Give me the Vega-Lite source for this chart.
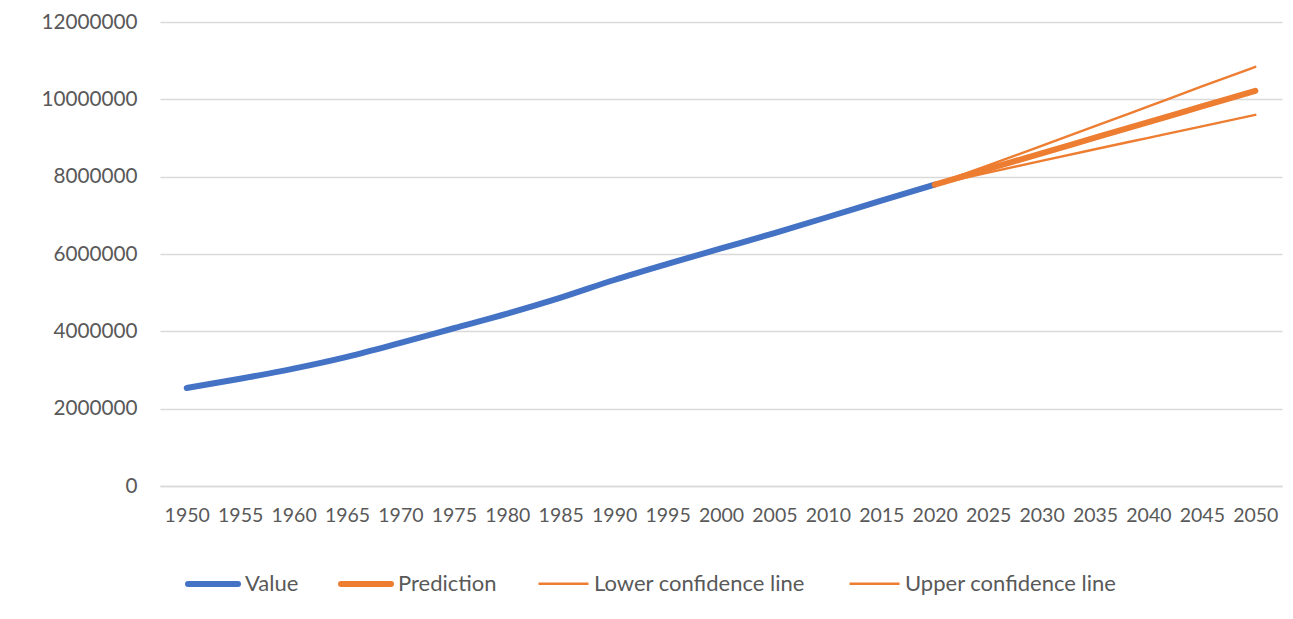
{
  "$schema": "https://vega.github.io/schema/vega-lite/v6.json",
  "width": 1122,
  "height": 464,
  "autosize": "none",
  "padding": {"left": 160, "top": 22, "right": 11, "bottom": 133},
  "background": "white",
  "config": {
    "font": "Lato",
    "view": {"stroke": null},
    "axis": {"labelColor": "#595959", "labelFont": "Lato"},
    "legend": {"labelColor": "#595959", "labelFont": "Lato"}
  },
  "data": {
    "values": [
      {"year": 1950, "series": "Value", "pop": 2536431},
      {"year": 1955, "series": "Value", "pop": 2773020},
      {"year": 1960, "series": "Value", "pop": 3034950},
      {"year": 1965, "series": "Value", "pop": 3339584},
      {"year": 1970, "series": "Value", "pop": 3700437},
      {"year": 1975, "series": "Value", "pop": 4079480},
      {"year": 1980, "series": "Value", "pop": 4458003},
      {"year": 1985, "series": "Value", "pop": 4870922},
      {"year": 1990, "series": "Value", "pop": 5327231},
      {"year": 1995, "series": "Value", "pop": 5744213},
      {"year": 2000, "series": "Value", "pop": 6143494},
      {"year": 2005, "series": "Value", "pop": 6541907},
      {"year": 2010, "series": "Value", "pop": 6956824},
      {"year": 2015, "series": "Value", "pop": 7379797},
      {"year": 2020, "series": "Value", "pop": 7794799},
      {"year": 2020, "series": "Prediction", "pop": 7794799},
      {"year": 2025, "series": "Prediction", "pop": 8199000},
      {"year": 2030, "series": "Prediction", "pop": 8604000},
      {"year": 2035, "series": "Prediction", "pop": 9008000},
      {"year": 2040, "series": "Prediction", "pop": 9412000},
      {"year": 2045, "series": "Prediction", "pop": 9816000},
      {"year": 2050, "series": "Prediction", "pop": 10220000},
      {"year": 2020, "series": "Lower confidence line", "pop": 7794799},
      {"year": 2025, "series": "Lower confidence line", "pop": 8105000},
      {"year": 2030, "series": "Lower confidence line", "pop": 8410000},
      {"year": 2035, "series": "Lower confidence line", "pop": 8710000},
      {"year": 2040, "series": "Lower confidence line", "pop": 9005000},
      {"year": 2045, "series": "Lower confidence line", "pop": 9300000},
      {"year": 2050, "series": "Lower confidence line", "pop": 9600000},
      {"year": 2020, "series": "Upper confidence line", "pop": 7794799},
      {"year": 2025, "series": "Upper confidence line", "pop": 8293000},
      {"year": 2030, "series": "Upper confidence line", "pop": 8798000},
      {"year": 2035, "series": "Upper confidence line", "pop": 9306000},
      {"year": 2040, "series": "Upper confidence line", "pop": 9819000},
      {"year": 2045, "series": "Upper confidence line", "pop": 10332000},
      {"year": 2050, "series": "Upper confidence line", "pop": 10840000}
    ]
  },
  "encoding": {
    "x": {
      "field": "year",
      "type": "quantitative",
      "scale": {"domain": [1947.5, 2052.5], "nice": false, "zero": false},
      "axis": {
        "title": null,
        "values": [1950, 1955, 1960, 1965, 1970, 1975, 1980, 1985, 1990, 1995, 2000, 2005, 2010, 2015, 2020, 2025, 2030, 2035, 2040, 2045, 2050],
        "format": "d",
        "grid": false,
        "ticks": false,
        "domain": true,
        "domainColor": "#D9D9D9",
        "domainWidth": 1.3,
        "labelFontSize": 19.5,
        "labelPadding": 20,
        "labelOverlap": false,
        "labelFlush": false
      }
    },
    "y": {
      "field": "pop",
      "type": "quantitative",
      "scale": {"domain": [0, 12000000], "nice": false},
      "axis": {
        "title": null,
        "values": [0, 2000000, 4000000, 6000000, 8000000, 10000000, 12000000],
        "format": "d",
        "grid": true,
        "gridColor": "#D9D9D9",
        "gridWidth": 1.3,
        "ticks": false,
        "domain": false,
        "labelFontSize": 20.7,
        "labelPadding": 23
      }
    }
  },
  "layer": [
    {
      "transform": [{"filter": "datum.series === 'Value' || datum.series === 'Prediction'"}],
      "mark": {"type": "line", "strokeWidth": 6, "strokeCap": "round", "strokeJoin": "round", "interpolate": "monotone"},
      "encoding": {
        "color": {
          "field": "series",
          "type": "nominal",
          "scale": {"domain": ["Value", "Prediction"], "range": ["#4472C4", "#ED7D31"]},
          "legend": {
            "title": null,
            "orient": "none",
            "legendX": 25,
            "legendY": 534,
            "direction": "horizontal",
            "symbolType": "stroke",
            "symbolSize": 2500,
            "symbolStrokeWidth": 6,
            "labelFontSize": 22,
            "labelLimit": 400,
            "labelOffset": 4,
            "columnPadding": 30,
            "encode": {"symbols": {"update": {"strokeCap": {"value": "round"}}}}
          }
        }
      }
    },
    {
      "transform": [{"filter": "datum.series !== 'Value' && datum.series !== 'Prediction'"}],
      "mark": {"type": "line", "strokeWidth": 2.4, "strokeCap": "round", "strokeJoin": "round", "interpolate": "monotone"},
      "encoding": {
        "color": {
          "field": "series",
          "type": "nominal",
          "scale": {"domain": ["Lower confidence line", "Upper confidence line"], "range": ["#ED7D31", "#ED7D31"]},
          "legend": {
            "title": null,
            "orient": "none",
            "legendX": 377,
            "legendY": 535,
            "direction": "horizontal",
            "symbolType": "stroke",
            "symbolSize": 2500,
            "symbolStrokeWidth": 2.4,
            "labelFontSize": 22,
            "labelLimit": 400,
            "labelOffset": 4,
            "columnPadding": 39
          }
        }
      }
    }
  ],
  "resolve": {"scale": {"color": "independent"}, "legend": {"color": "independent"}}
}
